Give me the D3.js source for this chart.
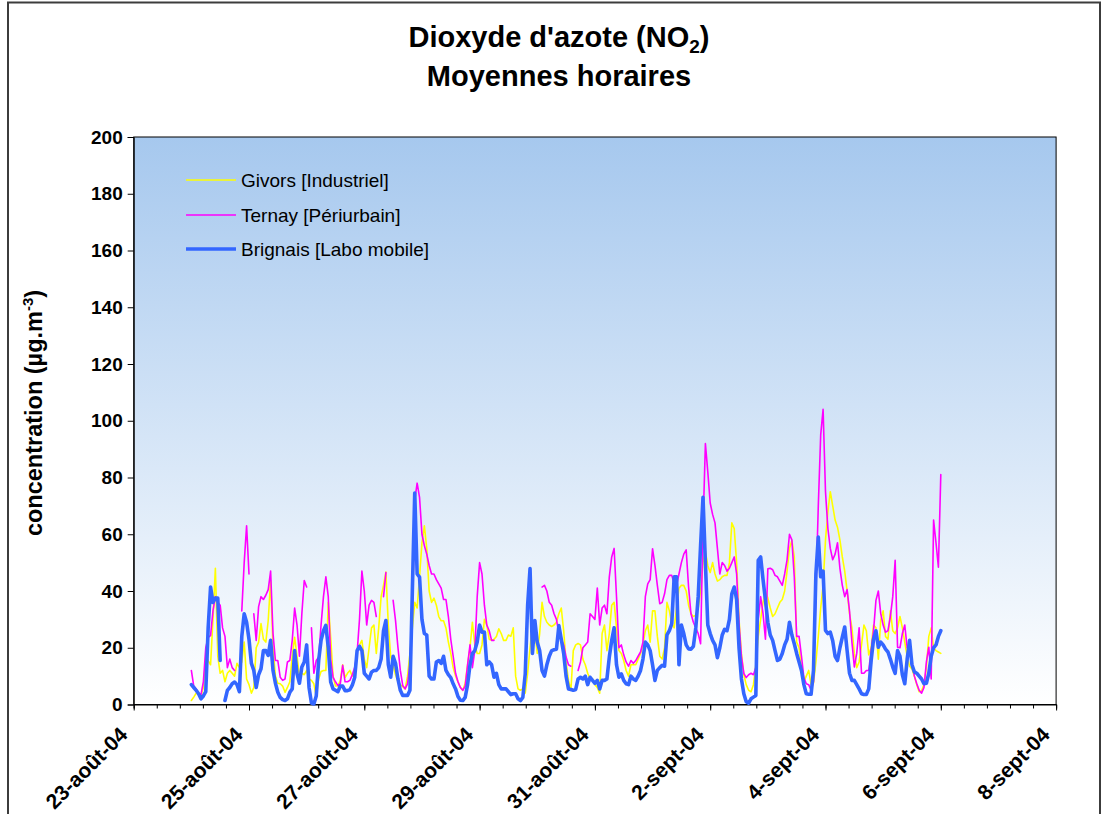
<!DOCTYPE html>
<html>
<head>
<meta charset="utf-8">
<script src="https://cdn.jsdelivr.net/npm/d3@7"></script>
<style>
  body { margin: 0; background: #ffffff; }
  svg text { font-family: "Liberation Sans", Arial, sans-serif; fill: #000; }
</style>
</head>
<body>
<svg id="chart" width="1104" height="814"></svg>
<script>
// Hourly NO2 averages (µg/m3), first value at 24-août-04 00:00, one value per hour.
const tickLabels = ["23-août-04", "25-août-04", "27-août-04", "29-août-04", "31-août-04",
                    "2-sept-04", "4-sept-04", "6-sept-04", "8-sept-04"];
const seriesNames = ["Givors [Industriel]", "Ternay [Périurbain]", "Brignais [Labo mobile]"];
const yTicks = [0, 20, 40, 60, 80, 100, 120, 140, 160, 180, 200];

const givors = [
  1.4, 2.6, 4, 3.5, 3, 6, 16.7, 15.5, 14, 30, 48, 17, 11, 12, 8, 11, 12, 11, 10, 14.5, 13, 15, 22, 9,
  7, 4, 6, 20, 22, 28.5, 23, 22, 29.6, 43.7, 20, 10, 7.5, 7.3, 6.5, 4.3, 6, 8, 17, 23.7, 17, 10, 11, 10.5,
  12, 9, 8.5, 7.3, 3, 9, 11.6, 12, 12, 36, 23.7, 10, 6.5, 6.5, 8.5, 14, 9.5, 11, 12, 10, 11, 19, 21, 22.6,
  16, 13, 20, 27, 28, 18, 27, 38, 42, 46.7, 28, 16.7, 14, 10.5, 8, 7, 6.3, 5.5, 10, 18, 27, 36, 34, 45,
  57, 63, 55, 40, 36, 37.5, 35, 31, 29.5, 29.5, 27, 22, 18, 13, 10, 8, 6, 5, 7.5, 14, 20, 29, 21, 18,
  18, 21, 30, 28, 23, 22.6, 23, 24, 26.7, 25, 22.6, 22.6, 24.5, 24, 27, 10, 5.5, 5, 5.5, 4, 11, 20, 28, 26,
  18, 25, 36, 31, 29, 28, 27.5, 28, 29, 32, 34, 26, 15, 8.5, 5, 19, 21, 21.5, 21, 16, 14, 11, 9, 9,
  7, 6, 4, 25, 28, 19, 25, 35, 36, 27, 19, 18, 15.5, 12, 10, 14, 14, 14, 16, 18, 21, 26, 28, 22,
  33, 33, 24, 17, 16, 20, 36, 33, 28.5, 27, 34, 41, 42, 42, 40, 35, 32, 31, 31.5, 34, 40, 50, 54, 49,
  46.5, 50, 46, 43.5, 44, 45, 45.5, 45.5, 50, 64, 62, 50, 30, 18, 10.5, 7, 5, 4.5, 7, 14, 24, 30, 36, 40,
  37.5, 34, 31, 32, 34, 36, 37, 40, 47, 55, 57.8, 52, 22, 20, 13, 8, 10, 12, 7, 7.5, 15, 24, 34, 42,
  58, 68, 75, 70, 65, 62.5, 58, 52, 47, 40, 32, 27, 18, 13, 15, 21, 28, 26, 17.5, 20, 28, 27, 16, 30,
  33, 24, 23, 33, 26, 25, 27, 31, 27, 22, 17, 13.5, 12.5, 10, 7, 4.5, 4.8, 7, 13, 24, 27, 20, 19, 18.5,
  18
];

const ternay = [
  12, 6.5, 5.5, 4, 3.5, 8, 20, 23.7, 24.3, 33, 38, 36, 35, 27, 24, 13, 16, 13, 12, null, null, 33, 50, 63,
  46, null, 32, 22.6, 34.5, 38, 37, 38.5, 40.5, 47, 25, 15.5, 15.5, 9.6, 8.5, 9, 15, 15.5, 22.6, 34, 28, 17, 32, 43.7,
  41.4, null, 27, 11, 15.5, 16.7, 28, 38, 45, 38, 16, 9.6, 8, 6.7, 7.3, 13.8, 8, 8, 8.5, 10.5, 13, 18, 30, 47,
  40, 28, 35, 36.7, 36, 31, null, null, 38, 46.5, null, null, 36.7, 29.6, 20.2, 12, 6.7, 5.5, 7.3, 14.3, 32, 72, 78, 73,
  60, 56, 53, 49, 46, 46, 44, 42.5, 41, 37, 37, 31, 23, 17, 11, 8, 6, 5, 6.5, 14, 21, 13, 19, 38,
  50, 46, 35, 28, 26, 22.6, 22.6, null, null, null, null, null, null, null, null, null, null, null, null, null, null, null, null, null,
  null, null, 41.4, 42, 40, 36, 35, 32, 30, 25, 23, 21, 16.7, 14, 13.5, null, null, 12, 15, 20, 21, 22, 32, 31,
  30, 41, 28, 34, 35, 32, 45, 52, 55, 38, 20, 21, 17.5, 15, 13.5, 15.5, 14.5, 15.5, 17, 18.5, 22, 38, 42.5, 44,
  54.9, 49, 42, 35.5, 36, 39, 44, 45.5, 45.5, 42.5, 42, 46, 50, 53, 54.5, 41.4, 32, 29, 27, 25, 21.4, 62, 92, 82,
  71, 67, 64, 55, 46, 50, 49, 47, 48, 50, 52, 46, 28.5, 17, 11, 9.5, 10.5, 11, 10.5, 13, 30, 38, 32, 23,
  47.8, 48, 47.5, 45.5, 45, 43.5, 42, 46, 51, 60, 58, 45, 24, 24, 17, 9.5, 7.3, 7, 5, 8, 40, 70, 95, 104,
  75, 62, 55, 51, 53, 57, 48, 42, 38, 40.5, 33, 22, 13.2, 18, 27, 11, 11, 12, 12, 19, 26, 36.7, 40, 32,
  28, 25.5, 26, 31, 38, 50.8, 20.2, 20, 25, 28, 20, 19.6, 15, 10, 7.3, 5, 4, 6, 15, 20.2, 9, 65, 57, 48.4,
  81
];

const brignais = [
  7, 6, 5, 3.8, 2, 3, 4.5, 27, 41.4, 36, 37.5, 37.5, 15.5, null, 1.4, 5, 6, 7.3, 7.9, 7, 4.5, 24, 32, 29,
  23, 14.5, 12, 6, 10.5, 12.6, 19, 19, 17.3, 22.6, 12, 7.5, 4.3, 2.5, 1.7, 1.4, 2, 4.3, 5.5, 19, 10.8, 7.5, 13.2, 15,
  21, 6, 0.5, 0.2, 3, 15.5, 22.6, 26, 27.9, 20.2, 8, 5.5, 5, 4.5, 6.5, 6.5, 4.9, 4.9, 5.2, 6.8, 9.5, 19, 20.5, 19,
  11, 10, 9, 11.4, 12, 12, 13, 16, 26, 29.6, 14, 9.6, 17, 14.5, 9, 5, 3.2, 3.2, 3.2, 5, 40, 74.5, 46, 44.9,
  30, 25, 24.5, 10, 9, 9, 15, 15.5, 14.5, 17, 12, 10.5, 9.5, 7.3, 5.5, 2.8, 1.5, 1.4, 2.5, 7, 14, 17.9, 19, 22,
  28, 25.5, 25.5, 14, 15, 14, 9.6, 11, 7, 5.5, 5.5, 5.5, 4.5, 3.5, 3.8, 3.8, 2, 1.4, 2.5, 10.8, 35, 47.9, 18, 29.6,
  22, 19, 12, 10, 14, 17, 19, 19.3, 19.5, 27.8, 23, 18, 10, 5.5, 5.3, 5, 5.3, 9, 9.6, 9, 10, 7, 9.6, 8.5,
  7.5, 8.5, 5.5, 8.5, 8.5, 9, 16.7, 22.6, 27, 14, 9.6, 10.8, 8.5, 7.3, 7, 10, 9, 8.5, 10, 12, 16, 22, 21, 19,
  14, 8.5, 12, 13, 13.8, 13.5, 24.5, 26, 28.5, 45, 45, 14, 28, 25, 21, 19.6, 19.5, 20.5, 27, 38, 56, 73, 50, 28,
  25, 22.6, 21, 16.5, 20, 24.5, 26.5, 26, 30, 39, 41.4, 37, 20, 9, 3.8, 1, 0.5, 2, 2.6, 3.2, 50.8, 52, 44, 36.7,
  29, 24.5, 22.6, 19, 15.5, 16, 18, 21, 23, 29, 24.5, 21.4, 18, 15, 12, 7, 3.8, 3.6, 3.6, 12, 46, 59, 45, 47,
  26.1, 25, 25.5, 22.5, 17, 15.5, 20, 23.7, 27.3, 19, 11, 8.5, 8.5, 7, 5.5, 3.8, 3.5, 3.5, 5.5, 15.5, 23, 26, 20.2, 22,
  21, 19.5, 18.5, 16, 13.2, 11, 19, 17, 10.5, 7.3, 16, 22.6, 14, 11.5, 11, 10, 9, 7.3, 7.5, 11, 17, 20, 21, 24,
  26
];

const svg = d3.select("#chart");

// Plot frame
const plot = { left: 133.7, right: 1056.1, top: 137, bottom: 704.5 };
const axisStart = new Date(2004, 7, 23);
const axisEnd = new Date(2004, 8, 8);
const firstHour = new Date(2004, 7, 24);
const DAY = 86400000;

const x = d3.scaleTime().domain([axisStart, axisEnd]).range([plot.left, plot.right]);
const y = d3.scaleLinear().domain([0, 200]).range([plot.bottom, plot.top]);

// Outer chart border
svg.append("rect")
  .attr("x", 8).attr("y", 2.5).attr("width", 1092).attr("height", 900)
  .attr("fill", "#ffffff").attr("stroke", "#3c3c3c").attr("stroke-width", 2);

// Plot background gradient
const defs = svg.append("defs");
const grad = defs.append("linearGradient").attr("id", "bg")
  .attr("x1", 0).attr("y1", 0).attr("x2", 0).attr("y2", 1);
grad.append("stop").attr("offset", "0%").attr("stop-color", "#a6c8ee");
grad.append("stop").attr("offset", "100%").attr("stop-color", "#ffffff");

svg.append("rect")
  .attr("x", plot.left).attr("y", plot.top)
  .attr("width", plot.right - plot.left).attr("height", plot.bottom - plot.top)
  .attr("fill", "url(#bg)").attr("stroke", "#000").attr("stroke-width", 1);

// Titles
const title = svg.append("text")
  .attr("x", 559).attr("y", 47).attr("text-anchor", "middle")
  .attr("font-size", 29).attr("font-weight", "bold");
title.append("tspan").text("Dioxyde d'azote (NO");
title.append("tspan").attr("font-size", 19).attr("dy", 6).text("2");
title.append("tspan").attr("dy", -6).text(")");

svg.append("text")
  .attr("x", 559).attr("y", 86).attr("text-anchor", "middle")
  .attr("font-size", 29).attr("font-weight", "bold")
  .text("Moyennes horaires");

// Y axis
const yAxis = d3.axisLeft(y).tickValues(yTicks).tickSize(6).tickPadding(5);
const gy = svg.append("g").attr("transform", `translate(${plot.left},0)`).call(yAxis);
gy.select(".domain").attr("stroke", "#000");
gy.selectAll(".tick line").attr("stroke", "#000");
gy.selectAll(".tick text")
  .attr("font-size", 19).attr("font-weight", "bold")
  .attr("font-family", "'Liberation Sans', Arial, sans-serif").attr("fill", "#000");

const ylab = svg.append("text")
  .attr("transform", "translate(42,413) rotate(-90)")
  .attr("text-anchor", "middle").attr("font-size", 23.5).attr("font-weight", "bold");
ylab.append("tspan").text("concentration (µg.m");
ylab.append("tspan").attr("font-size", 15).attr("dy", -9).text("-3");
ylab.append("tspan").attr("dy", 9).text(")");

// X axis: major ticks every 2 days, minor ticks every 0.4 day
const majorDates = d3.range(0, 17, 2).map(d => new Date(axisStart.getTime() + d * DAY));
const minorDates = d3.range(0, 41).map(i => new Date(axisStart.getTime() + i * 0.4 * DAY));

const gx = svg.append("g").attr("transform", `translate(0,${plot.bottom})`);
gx.call(d3.axisBottom(x).tickValues(minorDates).tickSize(4).tickFormat(""));
gx.select(".domain").attr("stroke", "#000");
gx.selectAll(".tick line").attr("stroke", "#000");
const gxMajor = svg.append("g").attr("transform", `translate(0,${plot.bottom})`);
gxMajor.call(d3.axisBottom(x).tickValues(majorDates).tickSize(6).tickFormat(""));
gxMajor.select(".domain").remove();
gxMajor.selectAll(".tick line").attr("stroke", "#000");

svg.append("g").selectAll("text")
  .data(majorDates)
  .join("text")
  .attr("transform", d => `translate(${x(d) - 5},736) rotate(-45)`)
  .attr("text-anchor", "end")
  .attr("font-size", 21).attr("font-weight", "bold")
  .text((d, i) => tickLabels[i]);

// Series lines
const hourDate = i => new Date(firstHour.getTime() + i * 3600000);
const line = d3.line()
  .defined(d => d != null)
  .x((d, i) => x(hourDate(i)))
  .y(d => y(d))
  .curve(d3.curveLinear);

const series = [
  { values: givors, color: "#ffff00", width: 1.6 },
  { values: ternay, color: "#ff00ff", width: 1.6 },
  { values: brignais, color: "#3366ff", width: 3.6 }
];

svg.append("g").selectAll("path")
  .data(series)
  .join("path")
  .attr("d", s => line(s.values))
  .attr("fill", "none")
  .attr("stroke", s => s.color)
  .attr("stroke-width", s => s.width)
  .attr("stroke-linejoin", "round")
  .attr("stroke-linecap", "round");

// Legend
const legend = svg.append("g");
const legendY = [180, 215, 249];
series.forEach((s, i) => {
  legend.append("line")
    .attr("x1", 186).attr("x2", 236)
    .attr("y1", legendY[i]).attr("y2", legendY[i])
    .attr("stroke", s.color).attr("stroke-width", s.width);
  legend.append("text")
    .attr("x", 241).attr("y", legendY[i]).attr("dy", "0.35em")
    .attr("font-size", 19)
    .text(seriesNames[i]);
});
</script>
</body>
</html>
